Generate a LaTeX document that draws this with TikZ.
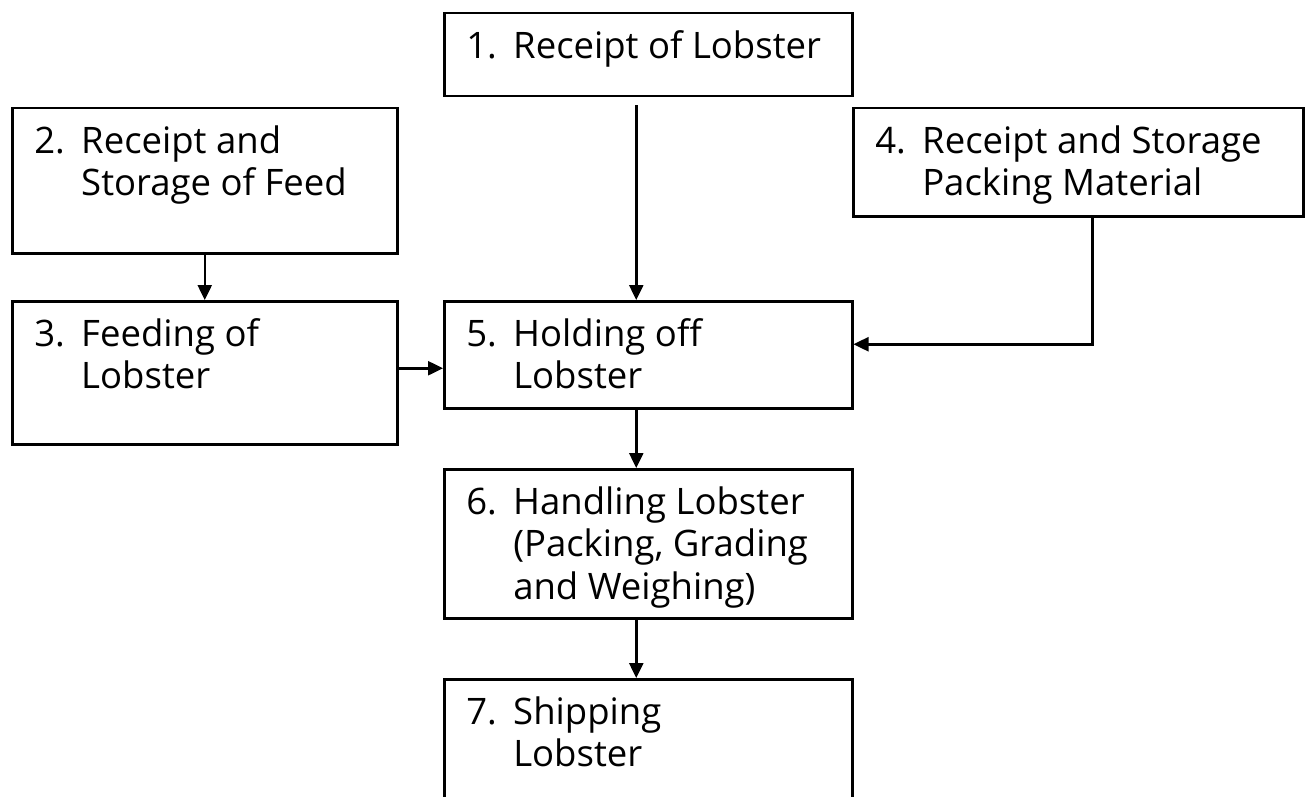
\documentclass[tikz,border=0pt]{standalone}
\usepackage{fontspec}
\setmainfont{Open Sans}
\usepackage{tikz}
\usetikzlibrary{arrows.meta, positioning, calc}
\definecolor{lobLine}{HTML}{000000}
% step text: #1 box height, #2 box width, #3 number, #4 lines
\newcommand{\lobstep}[4]{%
  \parbox[c][#1][t]{#2}{\rule{0pt}{45pt}\hspace*{22pt}\makebox[47pt][l]{#3}%
    \parbox[t]{\dimexpr#2-69pt\relax}{#4}}}
\tikzset{
  lob/box/.style   = {rectangle, draw=lobLine, line width=2.5pt, inner sep=0pt,
                      anchor=north west, align=left},
  lob/arrow/.style = {-{Triangle[length=15pt, width=14pt]}, line width=2.5pt, draw=lobLine},
}
\begin{document}
\begin{tikzpicture}[x=1pt, y=-1pt, every node/.style={font=\fontsize{36.5}{42.5}\selectfont}]
  \clip (0,0) rectangle (1308,797);
  \fill[white] (0,0) rectangle (1308,797);
  % steps
  \node[lob/box] (rec)  at (443,12)  {\lobstep{83pt}{408pt}{1.}{Receipt of Lobster}};
  \node[lob/box] (feed) at (11,107)  {\lobstep{145pt}{385pt}{2.}{Receipt and\\Storage of Feed}};
  \node[lob/box] (fdg)  at (11,300)  {\lobstep{143pt}{385pt}{3.}{Feeding of\\Lobster}};
  \node[lob/box] (pack) at (852,107) {\lobstep{108pt}{450pt}{4.}{Receipt and Storage\\Packing Material}};
  \node[lob/box] (hold) at (443,300) {\lobstep{107pt}{408pt}{5.}{Holding off\\Lobster}};
  \node[lob/box] (hand) at (443,468) {\lobstep{149pt}{408pt}{6.}{Handling Lobster\\(Packing, Grading\\and Weighing)}};
  \node[lob/box] (ship) at (443,678) {\lobstep{145pt}{408pt}{7.}{Shipping\\Lobster}};
  % arrows
  \draw[lob/arrow, shorten <=8pt] ([xshift=-12pt]rec.south) -- ([xshift=-12pt]rec.south |- hold.north);
  \draw[lob/arrow] (feed) -- (fdg);
  \draw[lob/arrow] ([yshift=4.5pt]fdg.east) -- ([yshift=4.5pt]fdg.east -| hold.west);
  \draw[lob/arrow] ([xshift=14pt]pack.south) |- ([yshift=10.5pt]hold.east);
  \draw[lob/arrow] ([xshift=-12pt]hold.south) -- ([xshift=-12pt]hand.north);
  \draw[lob/arrow] ([xshift=-12pt]hand.south) -- ([xshift=-12pt]ship.north);
\end{tikzpicture}
\end{document}
